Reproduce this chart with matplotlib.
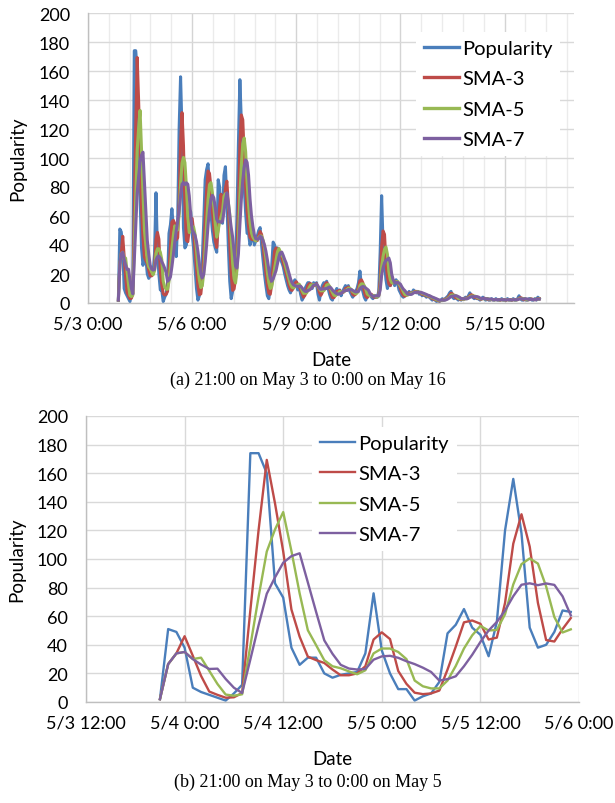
import matplotlib
matplotlib.use("Agg")
import matplotlib.pyplot as plt
from matplotlib.ticker import FixedLocator, FuncFormatter, MultipleLocator
import matplotlib.dates as mdates
from datetime import datetime, timedelta

# ---------------- data (hourly, starting 5/3 21:00) ----------------
start_time = datetime(2013, 5, 3, 21)

popularity = [
    2, 51, 49, 38, 10, 7, 5, 3, 1, 6, 12,
    174, 174, 160, 83, 73, 38, 26, 31, 31, 20,
    17, 19, 20, 21, 34, 76, 36, 20, 9, 9,
    1, 4, 6, 14, 48, 54, 65, 52, 47, 32,
    56, 120, 156, 118, 52, 38, 40, 49, 64, 63,
    48, 38, 24, 10, 2, 5, 12, 30, 55, 85,
    92, 96, 80, 62, 50, 42, 38, 35, 85, 80,
    60, 55, 88, 94, 70, 40, 15, 3, 8, 18,
    25, 60, 110, 154, 125, 100, 80, 62, 48, 48,
    40, 44, 47, 40, 43, 46, 50, 52, 40, 30,
    20, 12, 5, 3, 10, 25, 42, 40, 32, 38,
    36, 30, 28, 25, 20, 16, 12, 9, 7, 10,
    14, 16, 14, 9, 12, 6, 2, 4, 10, 12,
    14, 14, 12, 10, 14, 12, 14, 6, 2, 8,
    12, 14, 13, 15, 10, 6, 3, 2, 6, 8,
    10, 7, 9, 5, 8, 10, 12, 9, 12, 8,
    6, 4, 6, 8, 10, 14, 22, 12, 8, 4,
    2, 5, 8, 6, 4, 3, 5, 4, 4, 8,
    35, 74, 40, 28, 16, 10, 14, 12, 18, 15,
    12, 16, 14, 9, 7, 5, 4, 5, 7, 6,
    8, 6, 7, 9, 8, 7, 8, 6, 7, 5,
    6, 5, 4, 5, 4, 3, 2, 3, 2, 1,
    2, 1, 2, 3, 2, 3, 4, 5, 7, 8,
    4, 3, 4, 3, 2, 3, 2, 3, 3, 4,
    3, 5, 7, 5, 4, 3, 4, 3, 3, 2,
    3, 4, 3, 2, 3, 2, 2, 3, 2, 2,
    3, 2, 2, 2, 3, 2, 2, 2, 3, 2,
    2, 2, 3, 2, 2, 3, 5, 3, 2, 2,
    3, 2, 2, 3, 3, 2, 2, 3, 2, 4,
    3,
]

sma3 = [
    2, 26.5, 34, 46, 32.3, 18.3, 7.3, 5, 3, 3.3, 6.3,
    64, 120, 169.3, 139, 105.3, 64.7, 45.7, 31.7, 29.3, 27.3,
    22.7, 18.7, 18.7, 20, 25, 43.7, 48.7, 44, 21.7, 12.7,
    6.5, 5.5, 6, 8, 22.7, 38.7, 55.7, 57, 54.7, 43.7,
    45, 69.3, 110.7, 131.3, 108.7, 69.3, 43.3, 42.3, 51, 58.7,
    58.3, 49.7, 36.7, 24, 12, 5.7, 6.3, 15.7, 32.3, 56.7,
    77.3, 91, 89.3, 79.3, 64, 51.3, 43.3, 38.3, 52.7, 66.7,
    75, 65, 67.7, 79, 84, 68, 41.7, 19.3, 8.7, 9.7,
    17, 34.3, 65, 108, 129.7, 126.3, 101.7, 80.7, 63.3, 52.7,
    45.3, 44, 43.7, 43.7, 43.3, 43, 46.3, 49.3, 47.3, 40.7,
    30, 20.7, 12.3, 6.7, 6, 12.7, 25.7, 35.7, 38, 36.7,
    35.3, 34.7, 31.3, 27.7, 24.3, 20.3, 16, 12.3, 9.3, 8.7,
    10.3, 13.3, 14.7, 13, 11.7, 9, 6.7, 4, 5.3, 8.7,
    12, 13.3, 13.3, 12, 12, 12, 13.3, 10.7, 7.3, 5.3,
    7.3, 11.3, 13, 14, 12.7, 10.3, 6.3, 3.7, 3.7, 5.3,
    8, 8.3, 8.7, 7, 7.3, 7.7, 10, 10.3, 11, 9.7,
    8.7, 6, 5.3, 6, 8, 10.7, 15.3, 16, 14, 8,
    4.7, 3.7, 5, 6.3, 6, 4.3, 4, 4, 4.3, 5.3,
    15.7, 39, 49.7, 47.3, 28, 18, 13.3, 12, 14.7, 15,
    15, 14.3, 14, 13, 10, 7, 5.3, 4.7, 5.3, 6,
    7, 6.7, 7, 7.3, 8, 8, 7.7, 7, 7, 6,
    6, 5.3, 5, 4.7, 4.3, 4, 3, 2.7, 2.3, 2,
    1.7, 1.3, 1.7, 2, 2.3, 2.7, 3, 4, 5.3, 6.7,
    6.3, 5, 3.7, 3.3, 3, 2.7, 2.3, 2.7, 2.7, 3.3,
    3.3, 4, 5, 5.7, 5.3, 4, 3.7, 3.3, 3.3, 2.7,
    2.7, 3, 3.3, 3, 2.7, 2.3, 2.3, 2.3, 2.3, 2.3,
    2.3, 2.3, 2.3, 2, 2.3, 2.3, 2.3, 2, 2.3, 2.3,
    2.3, 2, 2.3, 2.3, 2.3, 2.3, 3.3, 3.7, 3.3, 2.3,
    2.3, 2.3, 2.3, 2.3, 2.7, 2.7, 2.3, 2.3, 2.3, 3,
    3,
]

sma5 = [
    2, 26.5, 34, 35, 30, 31, 21.8, 12.6, 5.2, 4.4, 5.4,
    39.2, 73.4, 105.2, 120.6, 132.8, 105.6, 76, 50.2, 39.8, 29.2,
    25, 23.6, 21.4, 19.4, 22.2, 34, 37.4, 37.4, 35, 30,
    15, 11, 9.5, 9.5, 15, 25.2, 37.4, 46.6, 53.2, 50,
    50.4, 61.4, 82.2, 96.4, 100.4, 96.8, 80.8, 59.4, 48.6, 50.8,
    52.8, 52.4, 47.4, 36.6, 24.4, 15.8, 10.6, 11.8, 20.8, 37.4,
    54.8, 71.6, 81.6, 83, 76, 66, 54.4, 45.4, 50, 56,
    59.6, 63, 73.6, 75.4, 73.4, 69.4, 61.4, 44.4, 27.2, 16.8,
    13.8, 22.8, 44.2, 73.4, 94.8, 109.8, 113.8, 104.2, 83, 67.6,
    55.6, 48.4, 45.4, 43.8, 42.8, 44, 45.2, 46.2, 46.2, 43.6,
    38.4, 30.8, 21.4, 14, 10, 11, 17, 24, 29.8, 35.4,
    37.6, 35.2, 32.8, 31.4, 27.8, 23.8, 20.2, 16.4, 12.8, 10.8,
    10.4, 11.2, 12.2, 12.6, 13, 11.4, 8.6, 6.6, 6.8, 6.8,
    8.4, 10.8, 12.4, 12.4, 12.8, 12.4, 12.4, 11.2, 9.6, 8.4,
    8.4, 8.4, 9.8, 12.4, 12.8, 11.6, 9.4, 7.2, 5.4, 5,
    5.8, 6.6, 8, 7.8, 7.8, 7.8, 8.8, 8.8, 10.2, 10.2,
    9.4, 7.8, 7.2, 6.4, 6.8, 8.4, 12, 13.2, 13.2, 12,
    9.6, 6.2, 5.4, 5, 5, 5.2, 5.2, 4.4, 4, 4.8,
    11.2, 25, 32.2, 37, 38.6, 33.6, 21.6, 16, 14, 13.8,
    14.2, 14.6, 15, 13.2, 11.6, 10.2, 7.8, 6, 5.6, 5.4,
    6, 6.4, 6.8, 7.2, 7.6, 7.4, 7.8, 7.6, 7.2, 6.6,
    6.4, 5.8, 5.4, 5, 4.8, 4.2, 3.6, 3.4, 2.8, 2.2,
    2, 1.8, 1.6, 1.8, 2, 2.2, 2.8, 3.4, 4.2, 5.4,
    5.6, 5.4, 5.2, 4.4, 3.2, 3, 2.8, 2.6, 2.6, 3,
    3, 3.6, 4.4, 4.8, 4.8, 4.8, 4.6, 3.8, 3.4, 3,
    3, 3, 3, 2.8, 3, 2.8, 2.4, 2.4, 2.4, 2.2,
    2.4, 2.4, 2.2, 2.2, 2.4, 2.2, 2.2, 2.2, 2.4, 2.2,
    2.2, 2.2, 2.4, 2.2, 2.2, 2.4, 3, 3, 3, 3,
    3, 2.4, 2.2, 2.4, 2.6, 2.4, 2.4, 2.6, 2.4, 2.6,
    2.8,
]

sma7 = [
    2, 26.5, 34, 35, 30, 26.2, 23.1, 23.3, 16.1, 10, 6.3,
    29.7, 53.6, 75.7, 87.1, 97.4, 102, 104, 83.6, 63.1, 43.1,
    33.7, 26, 23.4, 22.7, 23.1, 29.6, 31.9, 32.3, 30.9, 28.5,
    26.5, 24, 21, 15, 16, 18, 25, 33, 42, 50,
    56, 64, 74, 82, 83, 81.7, 82.9, 81.9, 73.9, 60.6,
    50.6, 48.6, 46.6, 42.3, 35.6, 27.1, 19.9, 17.3, 19.7, 28.4,
    40.1, 53.6, 64.3, 71.4, 74.3, 72.4, 65.7, 57.6, 56, 56,
    55.7, 56.4, 63, 71, 76, 69.6, 60.3, 52.1, 45.4, 35.4,
    25.6, 24.1, 34.1, 54, 71.4, 84.6, 93.4, 98.7, 97, 88.1,
    71.9, 60.3, 52.7, 47, 44.3, 44, 44.3, 46, 45.4, 43,
    40.1, 35.7, 29.9, 23.1, 17.1, 15, 16.7, 19.6, 22.4, 27.1,
    31.9, 34.7, 35.1, 32.7, 29.9, 27.6, 23.9, 20, 16.7, 14.1,
    12.6, 12, 11.7, 11.3, 11.7, 11.6, 10.4, 9, 8.1, 7.9,
    8.6, 8.9, 9.7, 10.9, 12.3, 12.6, 12.9, 11.7, 10, 9.4,
    9.7, 9.7, 9.9, 10, 10.6, 11.1, 10.4, 9, 7.9, 7.1,
    6.4, 6, 6.4, 6.7, 7.6, 8.1, 8.7, 8.6, 9.3, 9.1,
    9.3, 8.7, 8.1, 7.6, 7.7, 8, 10, 10.9, 11.4, 11.1,
    10.3, 9.6, 8.7, 6.4, 5.3, 4.6, 4.7, 5, 4.9, 4.9,
    9, 19, 24.3, 27.6, 29.3, 30.1, 31, 27.7, 19.7, 16.1,
    13.9, 13.9, 14.4, 13.7, 13, 11.1, 9.6, 8.6, 7.3, 6.1,
    6, 5.9, 6.1, 6.9, 7.3, 7.3, 7.6, 7.3, 7.4, 7.1,
    6.7, 6.3, 5.9, 5.4, 5.1, 4.6, 4.1, 3.7, 3.3, 2.9,
    2.4, 2, 1.9, 2, 1.9, 2, 2.4, 2.9, 3.7, 4.6,
    4.7, 4.9, 5, 4.9, 4.4, 3.9, 3, 2.9, 2.9, 2.9,
    2.9, 3.3, 3.9, 4.3, 4.4, 4.4, 4.4, 4.4, 4.1, 3.4,
    3.1, 3.1, 3.1, 2.9, 2.9, 2.7, 2.7, 2.7, 2.4, 2.3,
    2.4, 2.3, 2.3, 2.3, 2.3, 2.3, 2.3, 2.1, 2.3, 2.3,
    2.3, 2.1, 2.3, 2.3, 2.3, 2.3, 2.7, 2.9, 2.9, 2.7,
    2.9, 2.9, 2.7, 2.4, 2.4, 2.4, 2.4, 2.4, 2.4, 2.7,
    2.7,
]

series_names = ["Popularity", "SMA-3", "SMA-5", "SMA-7"]
zoom_hours = 51          # panel (b): 5/3 21:00 .. 5/6 0:00
caption_a = "(a) 21:00 on May 3 to 0:00 on May 16"
caption_b = "(b) 21:00 on May 3 to 0:00 on May 5"

# ---------------- styling ----------------
colors = ["#4A7EBB", "#BE4B48", "#98B954", "#7D60A0"]
FONT = ["Lato", "DejaVu Sans"]
SERIF = ["Liberation Serif", "DejaVu Serif"]
plt.rcParams["font.family"] = FONT
GRID = "#D9D9D9"

n = min(len(popularity), len(sma3), len(sma5), len(sma7))
all_series = [popularity[:n], sma3[:n], sma5[:n], sma7[:n]]
times = [start_time + timedelta(hours=h) for h in range(n)]

fig = plt.figure(figsize=(6.15, 8.04), dpi=100)


def fmt_date(x, pos=None):
    d = mdates.num2date(x)
    return f"{d.month}/{d.day} {d.hour}:{d.minute:02d}"


def style_axes(ax):
    ax.set_ylim(0, 200)
    ax.yaxis.set_major_locator(MultipleLocator(20))
    ax.grid(True, axis="y", color=GRID, lw=1.0)
    for s in ["top", "right"]:
        ax.spines[s].set_visible(False)
    for s in ["left", "bottom"]:
        ax.spines[s].set_color("#BFBFBF")
        ax.spines[s].set_linewidth(1.0)
    ax.tick_params(axis="both", length=0, labelsize=13, colors="black")
    ax.tick_params(axis="x", pad=9)
    ax.tick_params(axis="y", pad=13)
    ax.xaxis.set_major_formatter(FuncFormatter(fmt_date))
    ax.set_axisbelow(True)
    ax.set_ylabel("Popularity", fontsize=13.5)
    ax.set_xlabel("Date", fontsize=13.5, labelpad=14)


def add_legend(ax, anchor):
    leg = ax.legend(loc="upper left", bbox_to_anchor=anchor, frameon=True,
                    fontsize=14.5, handlelength=1.75, handletextpad=0.15,
                    labelspacing=0.66, borderaxespad=0, borderpad=0.4)
    fr = leg.get_frame()
    fr.set_edgecolor("none")
    fr.set_facecolor("white")
    fr.set_alpha(1)
    return leg


# ---- panel (a) ----
ax1 = fig.add_axes([88 / 615, 1 - 304 / 804, 486 / 615, 290 / 804])
x0 = datetime(2013, 5, 3)
x1 = datetime(2013, 5, 17)
ax1.set_xlim(mdates.date2num(x0), mdates.date2num(x1))
major_a = [mdates.date2num(x0 + timedelta(days=3 * k)) for k in range(5)]
minor_a = [mdates.date2num(x0 + timedelta(days=0.6 * k)) for k in range(1, 24)]
ax1.xaxis.set_major_locator(FixedLocator(major_a))
ax1.xaxis.set_minor_locator(FixedLocator(minor_a))
ax1.grid(True, axis="x", which="major", color="#D4D4D4", lw=1.0)
ax1.grid(True, axis="x", which="minor", color="#EBEBEB", lw=1.0)
ax1.tick_params(axis="x", which="minor", length=0)
style_axes(ax1)
for ys, c, name in zip(all_series, colors, series_names):
    ax1.plot(times, ys, color=c, lw=2.2, label=name, solid_joinstyle="round")
leg1 = add_legend(ax1, (0.674, 0.935))
for line in leg1.get_lines():
    line.set_linewidth(2.4)
ax1.yaxis.set_label_coords(-0.128, 0.5)

# ---- panel (b) ----
ax2 = fig.add_axes([86 / 615, 1 - 703 / 804, 493 / 615, 286 / 804])
b0 = datetime(2013, 5, 3, 12)
b1 = datetime(2013, 5, 6, 0)
ax2.set_xlim(mdates.date2num(b0), mdates.date2num(b1))
major_b = [mdates.date2num(b0 + timedelta(hours=12 * k)) for k in range(6)]
ax2.xaxis.set_major_locator(FixedLocator(major_b))
ax2.grid(True, axis="x", which="major", color=GRID, lw=1.0)
style_axes(ax2)
for ys, c, name in zip(all_series, colors, series_names):
    ax2.plot(times[:zoom_hours], ys[:zoom_hours], color=c, lw=1.7, label=name)
add_legend(ax2, (0.458, 0.962))
ax2.yaxis.set_label_coords(-0.124, 0.5)

fig.text(0.5, 1 - 380 / 804, caption_a, ha="center", va="center",
         fontsize=13, family=SERIF)
fig.text(0.5, 1 - 782 / 804, caption_b, ha="center", va="center",
         fontsize=13, family=SERIF)

fig.savefig("out.png", dpi=100)
